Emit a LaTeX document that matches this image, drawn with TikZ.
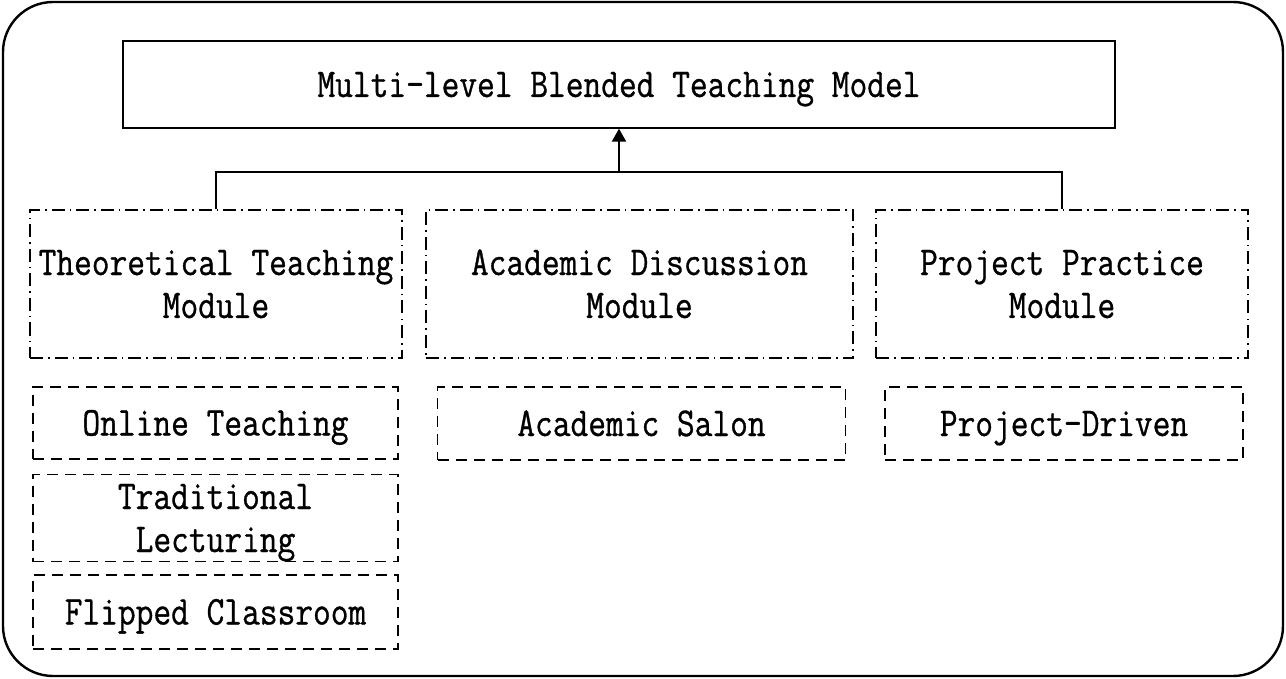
\documentclass[tikz,border=0pt]{standalone}
\usepackage{fontspec}
\newfontfamily\monof[FakeStretch=0.84,FakeBold=0.8]{Latin Modern Mono}
\usetikzlibrary{arrows.meta}
\tikzset{
  txt/.style={font=\monof\fontsize{41}{43}\selectfont, align=center, inner sep=0pt},
  one/.style={text height=25pt, text depth=0pt},
  two/.style={text height=68pt, text depth=0pt},
  titlebox/.style={txt, one, draw, line width=1.4pt, minimum width=992pt, minimum height=87pt},
  modbox/.style={txt, two, draw, line width=1.4pt, dash pattern=on 13pt off 5pt on 1.5pt off 5pt},
  subbox/.style={txt, draw, line width=1.4pt, dash pattern=on 11pt off 7pt},
  conn/.style={line width=2.3pt},
}
\begin{document}
\begin{tikzpicture}[x=1pt,y=-1pt]
\useasboundingbox (0,0) rectangle (1286,679);
\draw[line width=2.4pt, rounded corners=50pt] (3,2) rectangle (1283,676);
\node[titlebox] (title) at (619,84.5) {Multi-level Blended Teaching Model};
\node[modbox, minimum width=372pt, minimum height=148pt] (theo) at (216,284) {Theoretical Teaching\\Module};
\node[modbox, minimum width=427pt, minimum height=148pt] (acad) at (639.5,284) {Academic Discussion\\Module};
\node[modbox, minimum width=372pt, minimum height=148pt] (proj) at (1062,284) {Project Practice\\Module};
\node[subbox, one, minimum width=365pt, minimum height=72pt] (online) at (215.5,423) {Online Teaching};
\node[subbox, two, minimum width=365pt, minimum height=87pt] (trad) at (215.5,518) {Traditional\\Lecturing};
\node[subbox, one, minimum width=365pt, minimum height=74pt] (flip) at (215.5,612) {Flipped Classroom};
\node[subbox, one, minimum width=408pt, minimum height=73pt] (salon) at (641.5,423.5) {Academic Salon};
\node[subbox, one, minimum width=358pt, minimum height=73pt] (pdriven) at (1064,423.5) {Project-Driven};
\coordinate (j) at (619,172);
\draw[conn] (theo.north) |- (j) -| (proj.north);
\draw[conn, -{Triangle[width=14pt,length=13pt]}] (j) -- (title.south);
\end{tikzpicture}
\end{document}
